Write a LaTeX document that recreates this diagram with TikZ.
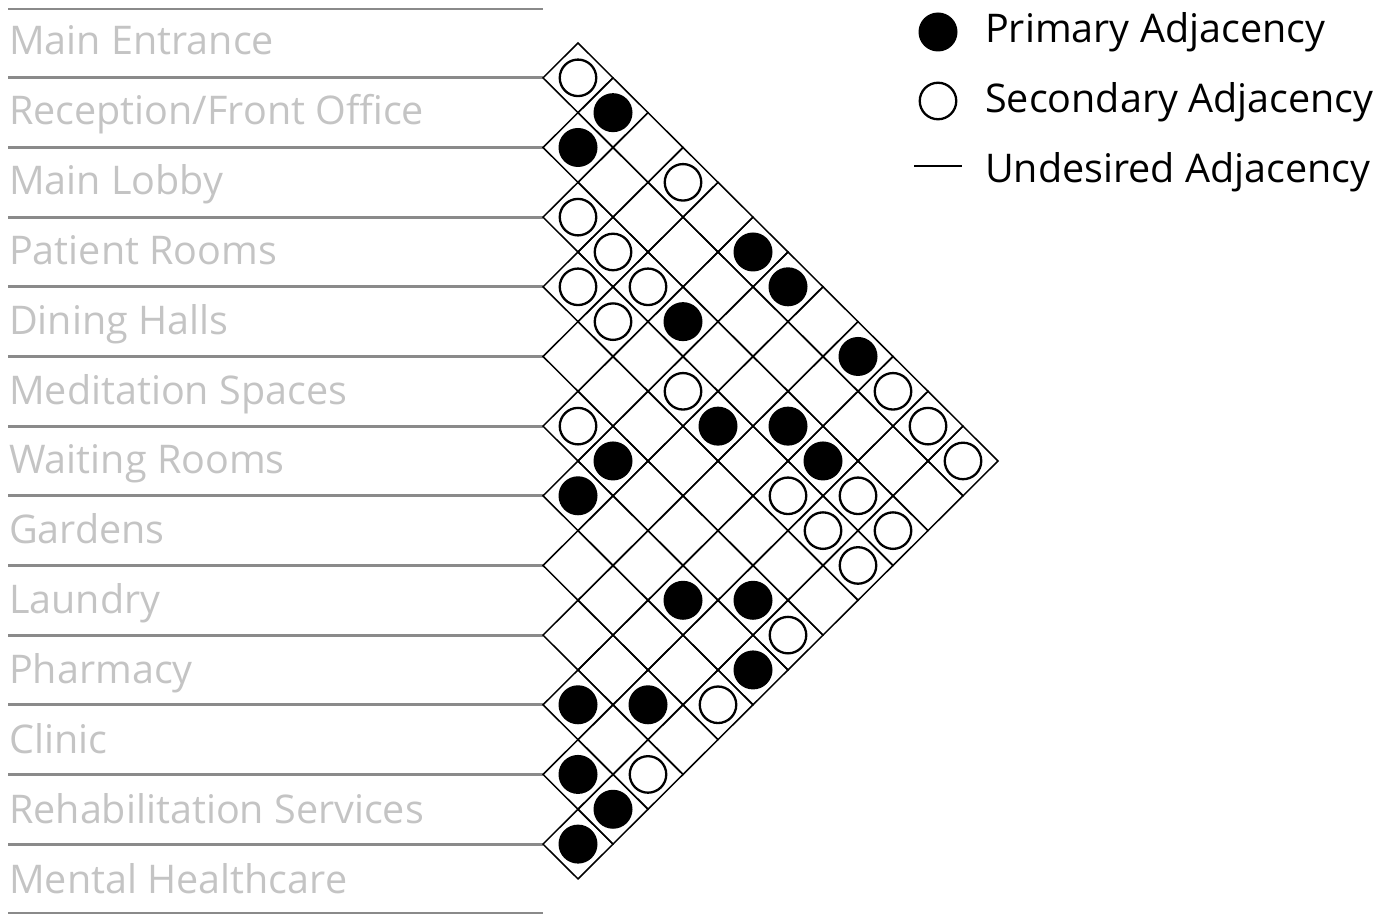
\documentclass[tikz,border=0pt]{standalone}
\usepackage{fontspec}
\setmainfont{Open Sans}
\definecolor{labelgray}{HTML}{C4C4C4}
\definecolor{linegray}{HTML}{8A8A8A}
\tikzset{
  lbl/.style={anchor=base west, inner sep=0pt, text=labelgray, font=\fontsize{39.5}{44}\selectfont},
  leg/.style={anchor=base west, inner sep=0pt, text=black, font=\fontsize{39.5}{44}\selectfont},
  rowline/.style={draw=linegray, line width=3.2pt},
  edgeline/.style={draw=linegray, line width=1.6pt},
  cellbox/.style={draw=black, line width=1.5pt, line join=miter},
  prim/.style={circle, fill=black, minimum size=39pt, inner sep=0pt},
  sec/.style={circle, draw=black, fill=white, line width=2.3pt, minimum size=36.5pt, inner sep=0pt},
  legline/.style={draw=black, line width=1.5pt}
}
\begin{document}
\begin{tikzpicture}[x=1pt,y=-1pt]
\useasboundingbox (0,0) rectangle (1391,915);
\def\hx{35}
\def\hy{34.83}
% row labels
\foreach \t [count=\k from 0] in {Main Entrance,Reception/Front Office,Main Lobby,Patient Rooms,Dining Halls,Meditation Spaces,Waiting Rooms,Gardens,Laundry,Pharmacy,Clinic,Rehabilitation Services,Mental Healthcare}
  \node[lbl] (l\k) at (9,{54.5+69.9*\k}) {\t};
% row separator lines
\coordinate (top0) at (8,9);
\coordinate (top1) at (543,9);
\draw[edgeline] (top0) -- (top1);
\foreach \k in {0,...,11}{
  \coordinate (ra\k) at (8,{43+\hy*(2*\k+1)});
  \coordinate (rb\k) at (543,{43+\hy*(2*\k+1)});
  \draw[rowline] (ra\k) -- (rb\k);
}
\coordinate (bot0) at (8,913);
\coordinate (bot1) at (543,913);
\draw[edgeline] (bot0) -- (bot1);
% grid cells
\foreach \i in {0,...,11}{
  \pgfmathtruncatemacro{\js}{\i+1}
  \foreach \j in {\js,...,12}{
    \draw[cellbox] ({543+\hx*(\j-\i)-\hx},{43+\hy*(\i+\j)})
      -- ({543+\hx*(\j-\i)},{43+\hy*(\i+\j)-\hy})
      -- ({543+\hx*(\j-\i)+\hx},{43+\hy*(\i+\j)})
      -- ({543+\hx*(\j-\i)},{43+\hy*(\i+\j)+\hy}) -- cycle;
  }
}
% primary adjacencies
\foreach \i/\j in {0/2,1/2,0/6,0/7,2/6,0/9,3/8,2/9,5/7,2/10,6/7,6/10,5/11,6/12,9/10,8/11,10/11,10/12,11/12}
  \node[prim] (p-\i-\j) at ({543+\hx*(\j-\i)},{43+\hy*(\i+\j)}) {};
% secondary adjacencies
\foreach \i/\j in {0/1,0/4,2/3,2/4,3/4,2/5,3/5,3/7,0/10,5/6,0/11,0/12,3/10,2/11,3/11,2/12,3/12,5/12,7/12,9/12}
  \node[sec] (s-\i-\j) at ({543+\hx*(\j-\i)},{43+\hy*(\i+\j)}) {};
% legend
\node[prim] (legp) at (938,32) {};
\node[leg] (legpt) at (985,43) {Primary Adjacency};
\node[sec] (legs) at (938,101) {};
\node[leg] (legst) at (985,112.5) {Secondary Adjacency};
\coordinate (lu0) at (914,166);
\coordinate (lu1) at (962,166);
\draw[legline] (lu0) -- (lu1);
\node[leg] (legut) at (985,182) {Undesired Adjacency};
\end{tikzpicture}
\end{document}
